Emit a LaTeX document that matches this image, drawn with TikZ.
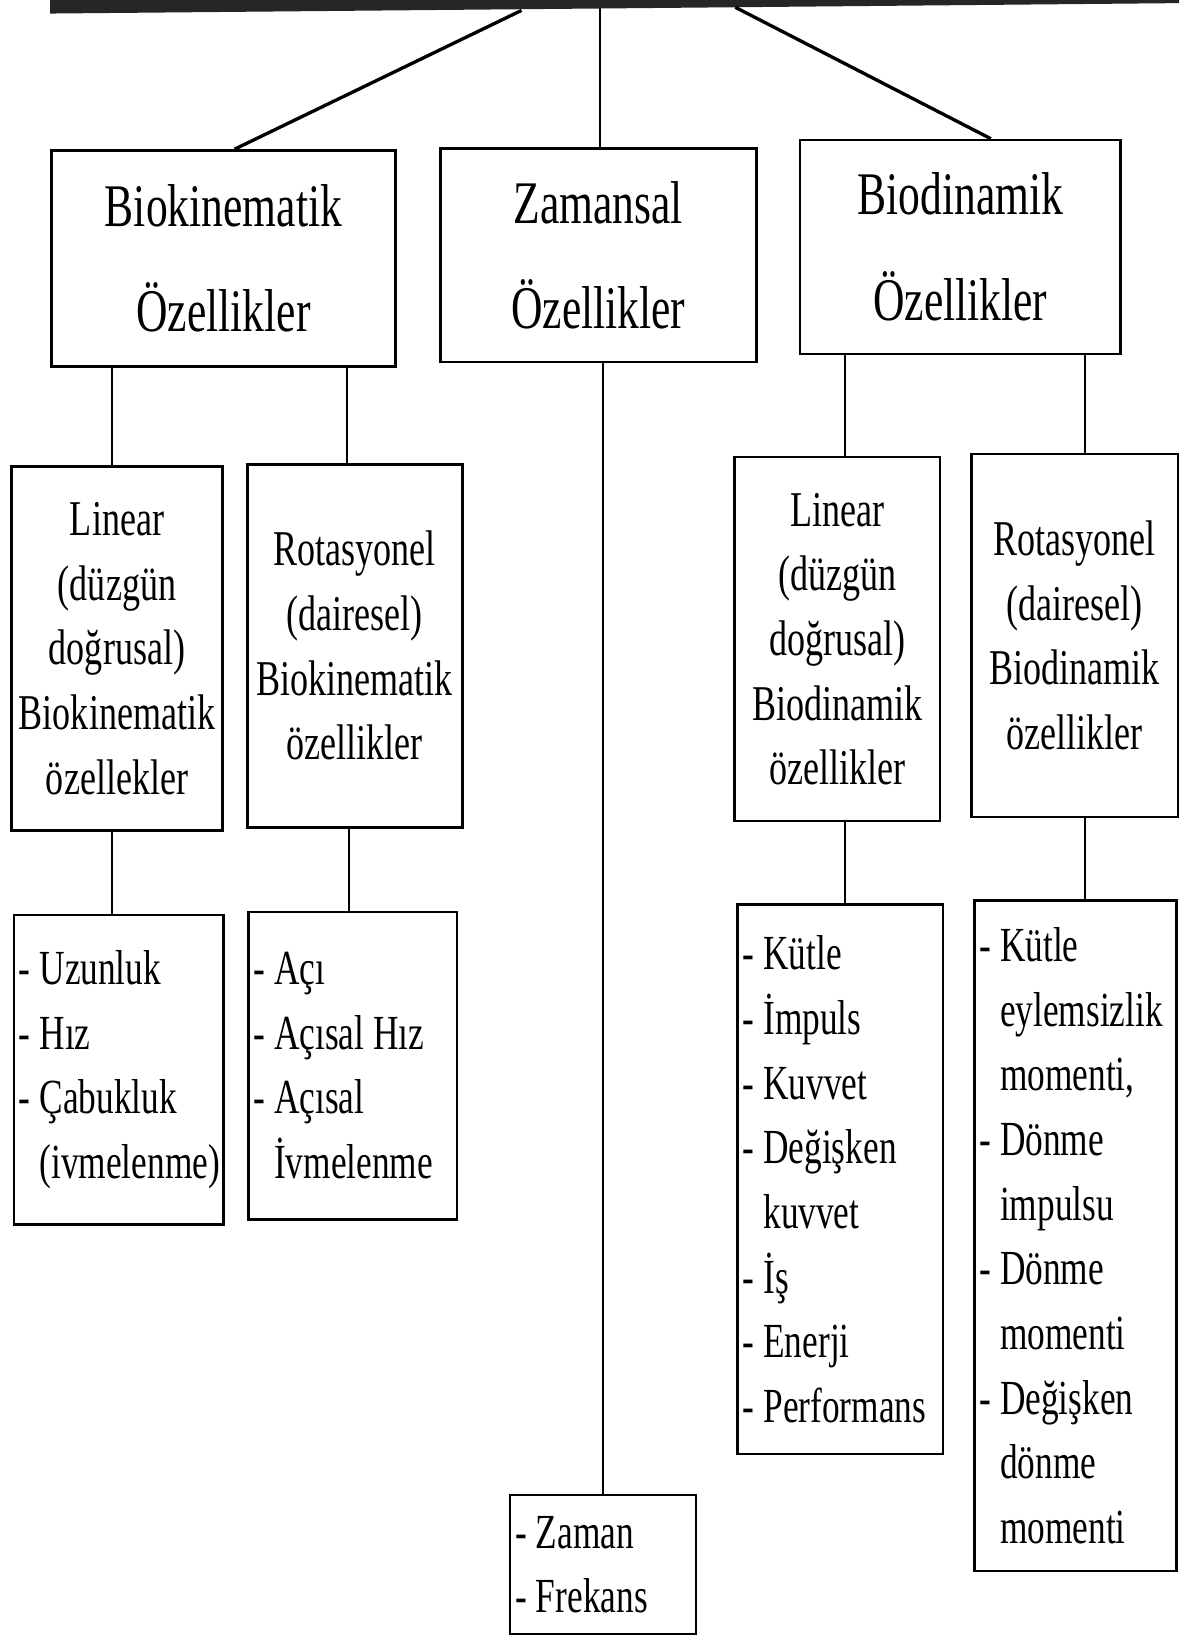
\documentclass[tikz,border=0pt]{standalone}
\usepackage{fontspec}
\setmainfont{Liberation Serif}[FakeStretch=0.72]
\newcommand{\ind}{\hphantom{-\ }}
\begin{document}
\begin{tikzpicture}[x=0.5pt,y=-0.5pt,
  box/.style={draw, line width=1.2pt, anchor=north west, inner xsep=1pt, inner ysep=0pt, align=center},
  topbox/.style={box, font=\fontsize{29}{51.5}\selectfont},
  midbox/.style={box, font=\fontsize{24}{31}\selectfont},
  listbox/.style={draw, line width=1.2pt, anchor=north west, inner xsep=2.5pt, inner ysep=0pt, align=flush left, font=\fontsize{23.5}{31}\selectfont},
  conn/.style={line width=1pt},
  diag/.style={line width=1.6pt}]
\useasboundingbox (0,0) rectangle (1130.4,1567.6);
% top bar (cut-off box)
\fill[black!85] (48,0) -- (1130.4,0) -- (1130.4,3) -- (700,7) -- (48,13) -- cycle;
\coordinate (tL) at (500,10);
\coordinate (tM) at (575,8);
\coordinate (tR) at (705,7);
% level 1
\node[topbox, minimum width=165pt, minimum height=103.5pt] (b1) at (48,143) {Biokinematik\\[-1pt]Özellikler};
\node[topbox, minimum width=151.5pt, minimum height=102.5pt] (b2) at (421,141) {Zamansal\\[-1pt]Özellikler};
\node[topbox, minimum width=153.5pt, minimum height=102.5pt] (b3) at (766,133) {Biodinamik\\[-1pt]Özellikler};
% level 2
\node[midbox, minimum width=101pt, minimum height=174.5pt] (l1) at (10,446) {Linear\\(düzgün\\doğrusal)\\Biokinematik\\özellekler};
\node[midbox, minimum width=103pt, minimum height=174pt] (r1) at (236,444) {Rotasyonel\\(dairesel)\\Biokinematik\\özellikler};
\node[midbox, minimum width=98.5pt, minimum height=174.5pt] (l2) at (703,437) {Linear\\(düzgün\\doğrusal)\\Biodinamik\\özellikler};
\node[midbox, minimum width=99pt, minimum height=174pt] (r2) at (930,434) {Rotasyonel\\(dairesel)\\Biodinamik\\özellikler};
% level 3
\node[listbox, text width=95.5pt, minimum height=148.5pt] (u1) at (12,876) {- Uzunluk\\- Hız\\- Çabukluk\\\ind(ivmelenme)};
\node[listbox, text width=95pt, minimum height=147.5pt] (a1) at (237,873) {- Açı\\- Açısal Hız\\- Açısal\\\ind İvmelenme};
\node[listbox, text width=93.5pt, minimum height=263.5pt] (k1) at (706,866) {- Kütle\\- İmpuls\\- Kuvvet\\- Değişken\\\ind kuvvet\\- İş\\- Enerji\\- Performans};
\node[listbox, text width=92pt, minimum height=321.5pt] (k2) at (933,862) {- Kütle\\\ind eylemsizlik\\\ind momenti,\\- Dönme\\\ind impulsu\\- Dönme\\\ind momenti\\- Değişken\\\ind dönme\\\ind momenti};
\node[listbox, text width=84pt, minimum height=67pt] (z1) at (488,1432) {- Zaman\\- Frekans};
% connectors
\draw[diag] (tL) -- (225,0 |- b1.north);
\draw[conn] (tM) -- (575,0 |- b2.north);
\draw[diag] (tR) -- (950,0 |- b3.north);
\draw[conn] (107,0 |- b1.south) -- (107,0 |- l1.north);
\draw[conn] (333,0 |- b1.south) -- (333,0 |- r1.north);
\draw[conn] (810,0 |- b3.south) -- (810,0 |- l2.north);
\draw[conn] (1040,0 |- b3.south) -- (1040,0 |- r2.north);
\draw[conn] (107,0 |- l1.south) -- (107,0 |- u1.north);
\draw[conn] (335,0 |- r1.south) -- (335,0 |- a1.north);
\draw[conn] (810,0 |- l2.south) -- (810,0 |- k1.north);
\draw[conn] (1040,0 |- r2.south) -- (1040,0 |- k2.north);
\draw[conn] (578,0 |- b2.south) -- (578,0 |- z1.north);
\end{tikzpicture}
\end{document}
